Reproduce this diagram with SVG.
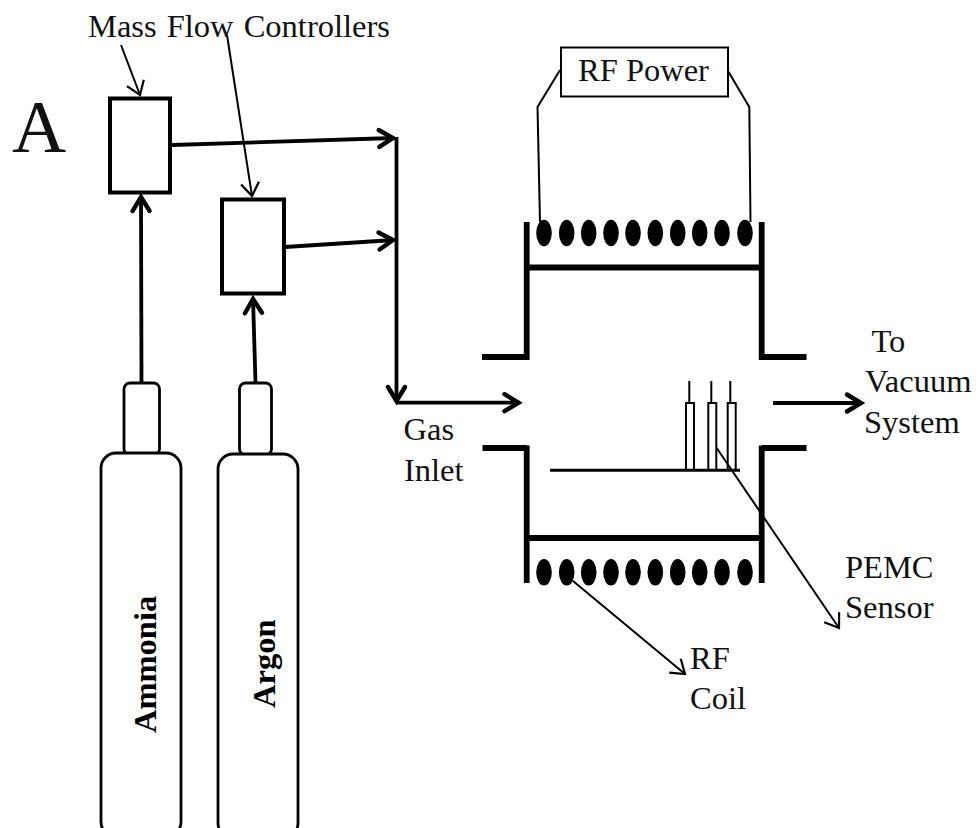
<svg xmlns="http://www.w3.org/2000/svg" width="976" height="828" viewBox="0 0 976 828">
<style>
text{font-family:"Liberation Serif","Times New Roman",serif;font-size:32.5px;fill:#111}
.b{font-weight:bold;font-size:32.5px;fill:#000}
.shape{fill:#fff;stroke:#000}
.box{stroke-width:4}
.cyl{stroke-width:2.8}
.wall{fill:none;stroke:#000;stroke-width:5.8}
.flow{fill:none;stroke:#000;stroke-width:3.8}
.thin{fill:none;stroke:#000;stroke-width:2}
.wire{fill:none;stroke:#000;stroke-width:2}
.sensor{fill:#fff;stroke:#000;stroke-width:2}
</style>
<defs>
<marker id="h" markerUnits="userSpaceOnUse" markerWidth="28" markerHeight="28" viewBox="-20 -14 28 28" refX="0" refY="0" orient="auto" overflow="visible"><path d="M-15,-8.5 L-1,0 L-15,8.5" fill="none" stroke="#000" stroke-width="4.4" stroke-linecap="round" stroke-linejoin="miter"/></marker>
<marker id="t" markerUnits="userSpaceOnUse" markerWidth="28" markerHeight="28" viewBox="-20 -14 28 28" refX="0" refY="0" orient="auto" overflow="visible"><path d="M-13,-9 L0,0 L-13,9" fill="none" stroke="#000" stroke-width="2.2"/></marker>
<g id="coil"><ellipse cx="544" cy="0" rx="7.8" ry="13.2"/><ellipse cx="566.7" cy="0" rx="7.8" ry="13.2"/><ellipse cx="588.7" cy="0" rx="7.8" ry="13.2"/><ellipse cx="611" cy="0" rx="7.8" ry="13.2"/><ellipse cx="633" cy="0" rx="7.8" ry="13.2"/><ellipse cx="655.3" cy="0" rx="7.8" ry="13.2"/><ellipse cx="677.7" cy="0" rx="7.8" ry="13.2"/><ellipse cx="699.7" cy="0" rx="7.8" ry="13.2"/><ellipse cx="722" cy="0" rx="7.8" ry="13.2"/><ellipse cx="745" cy="0" rx="7.8" ry="13.2"/></g>
</defs>
<rect width="976" height="828" fill="#fff"/>
<text x="12" y="152" style="font-size:75px">A</text>
<text x="88" y="37" style="font-size:32.5px;word-spacing:2px">Mass Flow Controllers</text>
<g id="connectors">
<path class="flow" d="M172,145 L394,138" marker-end="url(#h)"/>
<path class="flow" d="M285,247 L394,240" marker-end="url(#h)"/>
<path class="flow" d="M141.5,383 L141,196" marker-end="url(#h)"/>
<path class="flow" d="M255.5,383 L253,298" marker-end="url(#h)"/>
<path class="flow" d="M396.5,137 L396.5,402" marker-end="url(#h)"/>
<path class="flow" d="M396,402.7 L519.5,402.7" marker-end="url(#h)"/>
<path class="flow" d="M773,403 L862,403" marker-end="url(#h)"/>
<path class="thin" d="M121,45 L140,95" marker-end="url(#t)"/>
<path class="thin" d="M227,35 L252,196" marker-end="url(#t)"/>
<path class="wire" d="M560,70 L537.5,107 L540,222"/>
<path class="wire" d="M728,71 L749.3,107 L750.5,222"/>
</g>
<g id="mfc1"><rect class="shape box" x="110" y="98.5" width="60" height="94"/></g>
<g id="mfc2"><rect class="shape box" x="222" y="199.5" width="62" height="94"/></g>
<g id="ammonia">
<rect class="shape cyl" x="124" y="383" width="35.5" height="72" rx="6"/>
<rect class="shape cyl" x="101" y="453" width="80" height="384" rx="15"/>
<text class="b" transform="translate(156,733) rotate(-90)">Ammonia</text>
</g>
<g id="argon">
<rect class="shape cyl" x="239.5" y="383" width="32" height="72" rx="6"/>
<rect class="shape cyl" x="218" y="454" width="80" height="384" rx="15"/>
<text class="b" transform="translate(275,708) rotate(-90)">Argon</text>
</g>
<g id="rf-power">
<rect class="shape" style="stroke-width:2" x="561" y="47.5" width="167" height="49"/>
<text x="578" y="81">RF Power</text>
</g>
<g id="chamber">
<path class="wall" d="M482,357 L527,357 M526.7,222 L526.7,360"/>
<path class="wall" d="M806.5,357 L762,357 M761.7,222 L761.7,360"/>
<path class="wall" d="M527,267.5 L762,267.5"/>
<path class="wall" d="M482.5,448 L527,448 M526.7,445.5 L526.7,583"/>
<path class="wall" d="M806.5,448 L762,448 M761.7,445.5 L761.7,583"/>
<path class="wall" d="M527,538 L762,538"/>
</g>
<g id="coil-top"><use href="#coil" y="233"/></g>
<g id="coil-bottom"><use href="#coil" y="572.3"/></g>
<g id="pemc-sensor">
<path class="wire" d="M689.3,381 V403 M711.3,381 V403 M730.3,381 V403"/>
<rect class="sensor" x="686" y="403" width="8" height="67"/>
<rect class="sensor" x="708.3" y="403" width="8" height="67"/>
<rect class="sensor" x="727.7" y="403" width="8" height="67"/>
<path d="M550,470.3 L740,470.3" fill="none" stroke="#000" stroke-width="3"/>
</g>
<g id="connectors-labels">
<path class="thin" d="M716.7,448 L839,628" marker-end="url(#t)"/>
<path class="thin" d="M572.7,580.7 L685,674" marker-end="url(#t)"/>
</g>
<text x="403.5" y="440">Gas</text>
<text x="404" y="481">Inlet</text>
<text x="871.5" y="352">To</text>
<text x="865" y="392">Vacuum</text>
<text x="864" y="433">System</text>
<text x="845" y="578">PEMC</text>
<text x="845" y="618">Sensor</text>
<text x="690" y="669">RF</text>
<text x="690" y="709">Coil</text>
</svg>
